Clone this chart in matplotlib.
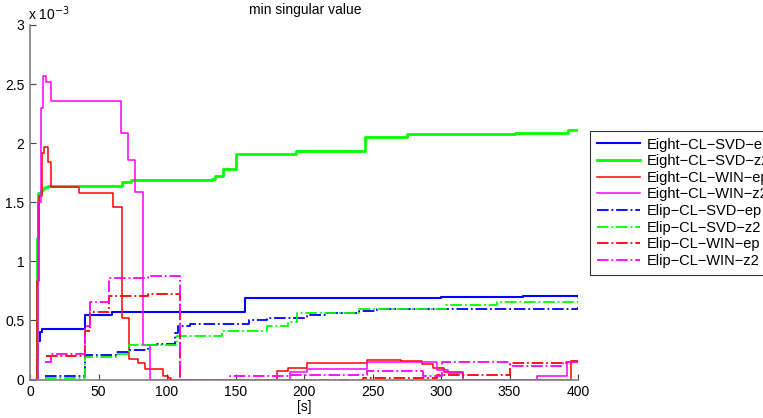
import numpy as np
import matplotlib
matplotlib.use("Agg")
import matplotlib.pyplot as plt

plt.rcParams['font.family'] = ['Liberation Sans', 'DejaVu Sans']

# values in units of 1e-3, time in seconds (step signals)
t_svd_ep = [0, 5, 6, 7, 9, 40, 60, 157, 300, 360, 400]
v_svd_ep = [0, 0.16, 0.33, 0.40, 0.43, 0.55, 0.575, 0.69, 0.70, 0.71, 0.71]

t_svd_z2 = [0, 5, 6, 8, 9.5, 11, 13, 67, 74, 133, 135, 141, 150, 194, 244.5, 275, 354, 366, 393, 399]
v_svd_z2 = [0, 1.2, 1.58, 1.6, 1.62, 1.63, 1.64, 1.67, 1.69, 1.70, 1.72, 1.78, 1.91, 1.93, 2.05, 2.08, 2.085, 2.09, 2.11, 2.11]

t_win_ep = [0, 5, 6.5, 8.5, 10.5, 13, 15.3, 35.7, 60.6, 67, 72, 79, 84, 97, 100.7, 103,
            180, 188, 202, 246, 271, 286, 294, 302, 316, 395, 400]
v_win_ep = [0, 0.83, 1.55, 1.92, 1.97, 1.84, 1.63, 1.58, 1.46, 0.52, 0.17, 0.14, 0.09, 0.03, 0.01, 0,
            0.075, 0.1, 0.14, 0.165, 0.16, 0.13, 0.1, 0.065, 0, 0.15, 0.15]

t_win_z2 = [0, 6, 7.8, 9.7, 11.7, 15, 66.2, 71.3, 76.6, 82.2, 87.6, 190, 202, 246, 297, 305, 316, 370, 392, 400]
v_win_z2 = [0, 1.5, 2.30, 2.57, 2.52, 2.36, 2.09, 1.86, 1.59, 0.29, 0, 0.06, 0.09, 0.15, 0.08, 0.055, 0, 0.03, 0.15, 0.15]

t_elip_svd_ep = [11, 40, 63, 73, 86, 93, 106, 108, 117, 160, 173, 202, 215, 240, 253, 400]
v_elip_svd_ep = [0.03, 0.21, 0.235, 0.25, 0.29, 0.30, 0.39, 0.45, 0.47, 0.50, 0.52, 0.55, 0.56, 0.58, 0.60, 0.61]

t_elip_svd_z2 = [11, 40, 63, 72, 107, 140, 173, 188, 195, 240, 304, 341, 400]
v_elip_svd_z2 = [0.01, 0.19, 0.22, 0.29, 0.37, 0.41, 0.45, 0.49, 0.56, 0.60, 0.63, 0.66, 0.70]

t_elip_win_ep = [12, 40, 44, 58, 86, 109.5, 243, 297, 350, 395, 400]
v_elip_win_ep = [0.2, 0.41, 0.575, 0.71, 0.72, 0, 0.015, 0.04, 0.14, 0.16, 0.16]

t_elip_win_z2 = [11, 15, 40, 44, 58, 86, 109.5, 146, 190, 246, 287, 301, 350, 389, 400]
v_elip_win_z2 = [0.15, 0.215, 0.45, 0.66, 0.86, 0.88, 0, 0.03, 0.04, 0.07, 0.03, 0.15, 0.115, 0.15, 0.15]

labels = ['Eight\u2212CL\u2212SVD\u2212ep', 'Eight\u2212CL\u2212SVD\u2212z2',
          'Eight\u2212CL\u2212WIN\u2212ep', 'Eight\u2212CL\u2212WIN\u2212z2',
          'Elip\u2212CL\u2212SVD\u2212ep', 'Elip\u2212CL\u2212SVD\u2212z2',
          'Elip\u2212CL\u2212WIN\u2212ep', 'Elip\u2212CL\u2212WIN\u2212z2']

blue, green, red, mag = '#0000ff', '#00ff00', '#ff0000', '#ff00ff'

fig = plt.figure(figsize=(7.63, 4.18), dpi=100)
ax = fig.add_axes([30/763, 1 - 379.5/418, 548/763, 354.5/418])

ax.step(t_svd_ep, v_svd_ep, where='post', color=blue, lw=1.5, label=labels[0])
ax.step(t_svd_z2, v_svd_z2, where='post', color=green, lw=2, label=labels[1])
ax.step(t_win_ep, v_win_ep, where='post', color=red, lw=1.1, label=labels[2])
ax.step(t_win_z2, v_win_z2, where='post', color=mag, lw=1.1, label=labels[3])
ax.step(t_elip_svd_ep, v_elip_svd_ep, where='post', color=blue, lw=1.3, ls='-.', label=labels[4])
ax.step(t_elip_svd_z2, v_elip_svd_z2, where='post', color=green, lw=1.3, ls='-.', label=labels[5])
ax.step(t_elip_win_ep, v_elip_win_ep, where='post', color=red, lw=1.3, ls='-.', label=labels[6])
ax.step(t_elip_win_z2, v_elip_win_z2, where='post', color=mag, lw=1.3, ls='-.', label=labels[7])

ax.set_xlim(0, 400)
ax.set_ylim(0, 3)
ax.set_xticks(np.arange(0, 401, 50))
ax.set_yticks([0, 0.5, 1, 1.5, 2, 2.5, 3])
ax.set_yticklabels(['0', '0.5', '1', '1.5', '2', '2.5', '3'])
ax.tick_params(direction='in', length=4, labelsize=10, color='#404040', pad=4)
for s in ['top', 'right']:
    ax.spines[s].set_visible(False)
for s in ['left', 'bottom']:
    ax.spines[s].set_color('#808080')
    ax.spines[s].set_linewidth(1.2)

ax.set_xlabel('[s]', fontsize=10, labelpad=1)
fig.text(305/763, 1 - 10/418, 'min singular value', ha='center', va='center', fontsize=10)
fig.text(28/763, 1 - 14/418, r'x 10$^{-3}$', ha='left', va='center', fontsize=10)

leg = ax.legend(loc='upper left', bbox_to_anchor=(590/763, 1 - 131/418),
                bbox_transform=fig.transFigure, fontsize=10.5, frameon=True,
                fancybox=False, edgecolor='k', handlelength=3.0, handletextpad=0.45,
                labelspacing=0.18, borderpad=0.45, borderaxespad=0)
leg.get_frame().set_linewidth(0.8)

fig.savefig('out.png', dpi=100)
